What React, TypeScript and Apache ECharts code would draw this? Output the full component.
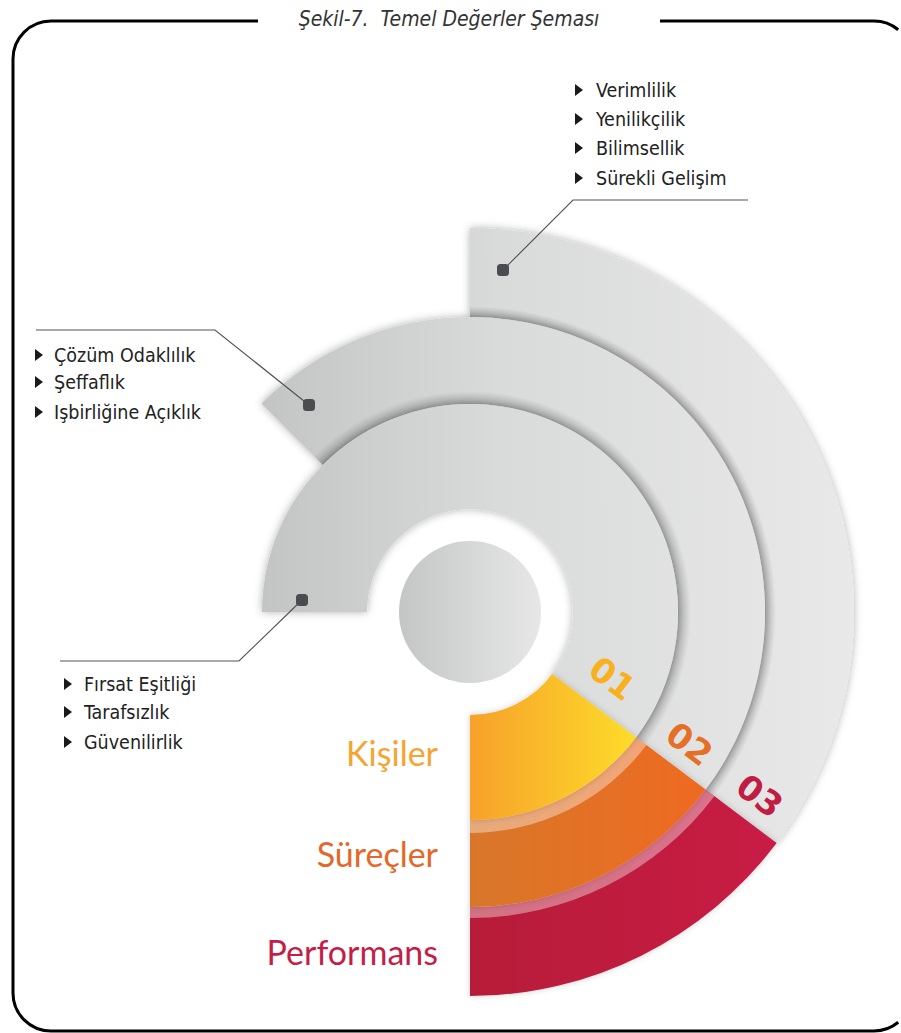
import React, { useEffect, useRef } from 'react';
import * as echarts from 'echarts';

// ---- data ----
const title = 'Şekil-7.  Temel Değerler Şeması';
const ringNames = ['Kişiler', 'Süreçler', 'Performans'];
const ringCodes = ['01', '02', '03'];
// sweep of each ring segment, in degrees (gray part, coloured part)
const grayDeg = [217, 172, 127];
const colorDeg = [53, 53, 53];
const valuesTopRight = ['Verimlilik', 'Yenilikçilik', 'Bilimsellik', 'Sürekli Gelişim'];
const valuesLeft = ['Çözüm Odaklılık', 'Şeffaflık', 'Işbirliğine Açıklık'];
const valuesBottomLeft = ['Fırsat Eşitliği', 'Tarafsızlık', 'Güvenilirlik'];

// ---- layout / style ----
const CX = 470;
const CY = 612;
const radii = [[103, 208], [208, 295], [295, 384]];
const bandOuter = [0, 221, 306];
const ringColors = [
  ['#f7a12b', '#fddc2a'],
  ['#d8772a', '#ee6a22'],
  ['#b71c38', '#c81f45'],
];
const labelColors = ['#f6a431', '#e2692a', '#c41e48'];
const codeColors = ['#f8b01f', '#e66f27', '#c11d43'];
const FONT = 'Lato';
const LIST_FONT = 'DejaVu Sans Condensed';

const grayGrad = {
  type: 'linear', x: 260, y: 0, x2: 860, y2: 0, global: true,
  colorStops: [
    { offset: 0, color: '#c3c4c4' },
    { offset: 0.4, color: '#d9dada' },
    { offset: 1, color: '#e9e9e9' },
  ],
};

function localGrad(c0: string, c1: string) {
  return {
    type: 'linear', x: 0, y: 0, x2: 1, y2: 0,
    colorStops: [{ offset: 0, color: c0 }, { offset: 1, color: c1 }],
  };
}

function buildSeries() {
  const series: any[] = [];
  const common = {
    type: 'pie',
    center: [CX, CY],
    clockwise: true,
    silent: true,
    animation: false,
    avoidLabelOverlap: false,
    label: { show: false },
    labelLine: { show: false },
    emphasis: { disabled: true },
  };
  for (let i = 2; i >= 0; i--) {
    const blank = 360 - grayDeg[i] - colorDeg[i];
    const start = -90 + grayDeg[i] + colorDeg[i];
    series.push({
      ...common,
      name: ringNames[i],
      radius: radii[i],
      startAngle: start,
      itemStyle: { borderWidth: 0 },
      data: [
        {
          name: ringNames[i] + ' (gri)', value: grayDeg[i],
          itemStyle: { color: grayGrad, shadowBlur: 9, shadowColor: 'rgba(0,0,0,0.3)' },
        },
        {
          name: ringNames[i], value: colorDeg[i],
          itemStyle: { color: localGrad(ringColors[i][0], ringColors[i][1]), shadowBlur: 6, shadowColor: 'rgba(0,0,0,0.18)' },
        },
        { name: '', value: blank, itemStyle: { color: 'rgba(0,0,0,0)' } },
      ],
    });
    if (i > 0) {
      const inner = radii[i][0];
      const outer = bandOuter[i];
      series.push({
        ...common,
        name: ringNames[i] + ' band',
        radius: [inner, outer],
        startAngle: start,
        itemStyle: { borderWidth: 0 },
        data: [
          {
            value: grayDeg[i],
            itemStyle: {
              color: {
                type: 'radial', x: CX, y: CY, r: outer, global: true,
                colorStops: [
                  { offset: inner / outer, color: 'rgba(0,0,0,0.22)' },
                  { offset: 1, color: 'rgba(0,0,0,0)' },
                ],
              },
            },
          },
          { value: colorDeg[i], itemStyle: { color: 'rgba(255,255,255,0.38)' } },
          { value: blank, itemStyle: { color: 'rgba(0,0,0,0)' } },
        ],
      });
    }
  }
  series.push({
    ...common,
    name: 'merkez',
    radius: [0, 71],
    startAngle: 90,
    itemStyle: { borderWidth: 0 },
    data: [{ value: 1, itemStyle: { color: localGrad('#c4c6c6', '#e7e7e7') } }],
  });
  return series;
}

function listGraphics(items: string[], triX: number, textX: number, ys: number[]) {
  const els: any[] = [];
  items.forEach((t, k) => {
    const y = ys[k];
    els.push({
      type: 'polygon', z: 100,
      shape: { points: [[triX, y - 6], [triX + 8, y], [triX, y + 6]] },
      style: { fill: '#1a1a1a' },
    });
    els.push({
      type: 'text', z: 100, x: textX, y,
      style: { text: t, fontFamily: LIST_FONT, fontSize: 19.5, fill: '#222', align: 'left', verticalAlign: 'middle' },
    });
  });
  return els;
}

function leader(points: number[][], dot: number[]) {
  return [
    {
      type: 'polyline', z: 100,
      shape: { points },
      style: { stroke: '#555', lineWidth: 1.2, fill: 'none' },
    },
    {
      type: 'rect', z: 101,
      shape: { x: dot[0] - 6, y: dot[1] - 6, width: 12, height: 12, r: 3.5 },
      style: { fill: '#4a4d4f' },
    },
  ];
}

function frameGraphics() {
  const L = 13, T = 21, R = 912, B = 1031, r = 38;
  const st = { stroke: '#000', lineWidth: 3, fill: 'none' };
  const line = (x1: number, y1: number, x2: number, y2: number) => ({
    type: 'line', z: 0, shape: { x1, y1, x2, y2 }, style: st,
  });
  const arc = (cx: number, cy: number, a0: number, a1: number) => ({
    type: 'arc', z: 0, shape: { cx, cy, r, startAngle: a0, endAngle: a1, clockwise: true }, style: st,
  });
  const P = Math.PI;
  return [
    line(L + r, T, 258, T),
    line(660, T, R - r, T),
    line(L, T + r, L, B - r),
    line(L + r, B, R - r, B),
    arc(L + r, T + r, P, 1.5 * P),
    arc(R - r, T + r, 1.5 * P, 1.72 * P),
    arc(R - r, B - r, 0.28 * P, 0.5 * P),
    arc(L + r, B - r, 0.5 * P, P),
  ];
}

function buildGraphics() {
  const els: any[] = [...frameGraphics()];
  els.push({
    type: 'text', z: 2, x: 449, y: 19,
    style: { text: title, fontFamily: LIST_FONT, fontStyle: 'italic', fontSize: 21, fill: '#333', align: 'center', verticalAlign: 'middle' },
  });

  // ring names
  const nameYs = [752, 853, 951];
  ringNames.forEach((n, i) => {
    els.push({
      type: 'text', z: 100, x: 438, y: nameYs[i],
      style: { text: n, fontFamily: FONT, fontSize: 34, fill: labelColors[i], align: 'right', verticalAlign: 'middle' },
    });
  });

  // codes along the dividers
  const codeR = [157, 256, 343];
  const codeAng = [25, 31, 32.4];
  ringCodes.forEach((c, i) => {
    const a = (codeAng[i] * Math.PI) / 180;
    const divider = ((90 - colorDeg[i]) * Math.PI) / 180;
    els.push({
      type: 'text', z: 100,
      x: CX + codeR[i] * Math.cos(a),
      y: CY + codeR[i] * Math.sin(a),
      rotation: -divider,
      style: {
        text: c, fontFamily: 'DejaVu Sans', fontWeight: 'bold', fontSize: 34, fill: codeColors[i],
        align: 'center', verticalAlign: 'middle',
      },
    });
  });

  // leaders
  els.push(...leader([[748, 200], [573, 200], [503, 270]], [503, 270]));
  els.push(...leader([[36, 330], [215, 330], [309, 405]], [309, 405]));
  els.push(...leader([[60, 661], [239, 661], [302, 600]], [302, 600]));

  // lists
  els.push(...listGraphics(valuesTopRight, 575, 596, [90, 119, 148, 178]));
  els.push(...listGraphics(valuesLeft, 35, 54, [355, 382, 412]));
  els.push(...listGraphics(valuesBottomLeft, 64, 84, [684, 712, 742]));
  return els;
}

export default function App() {
  const ref = useRef<HTMLDivElement>(null);
  useEffect(() => {
    if (!ref.current) return;
    const chart = echarts.init(ref.current, undefined, { renderer: 'svg' });
    chart.setOption({
      animation: false,
      backgroundColor: '#fff',
      series: buildSeries(),
      graphic: { elements: buildGraphics() },
    });
    return () => chart.dispose();
  }, []);
  return (
    <div
      ref={ref}
      style={{ position: 'absolute', left: 0, top: 0, width: 901, height: 1033, overflow: 'hidden' }}
    />
  );
}
